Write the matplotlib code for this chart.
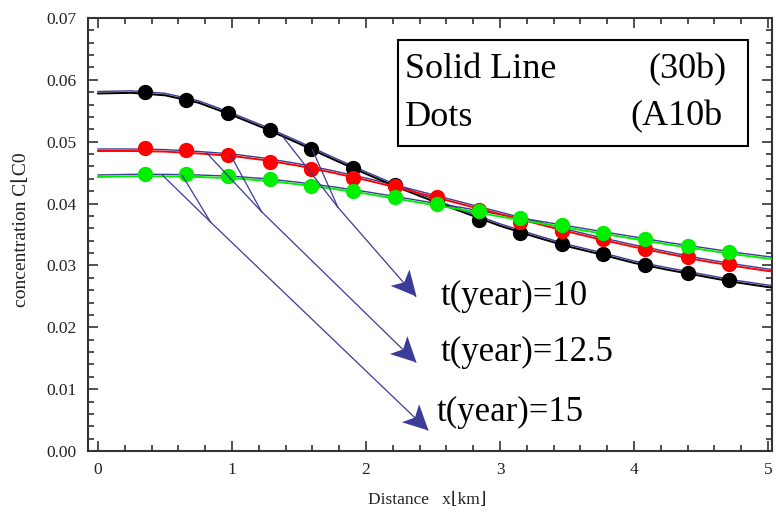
import numpy as np
import matplotlib
matplotlib.use("Agg")
import matplotlib.pyplot as plt
import matplotlib.transforms as mtransforms
from matplotlib.patches import Rectangle
from matplotlib.path import Path
from matplotlib.ticker import MultipleLocator, FormatStrFormatter

plt.rcParams['font.family'] = ['Liberation Serif', 'DejaVu Serif', 'DejaVu Sans']

# Model curves (solid lines), distance in km
line_x = [0.0, 0.25, 0.5, 0.75, 1.0, 1.25, 1.5, 1.75, 2.0, 2.25, 2.5,
          2.75, 3.0, 3.25, 3.5, 3.75, 4.0, 4.25, 4.5, 4.75, 5.0, 5.05]
line_t10 = [0.0578, 0.0579, 0.0575, 0.0563, 0.0543, 0.0521, 0.0497, 0.0472,
            0.0448, 0.0425, 0.0404, 0.0384, 0.0364, 0.0347, 0.0331, 0.0318,
            0.0304, 0.0293, 0.0283, 0.0273, 0.0265, 0.0264]
line_t125 = [0.0485, 0.0485, 0.0484, 0.0481, 0.0477, 0.0470, 0.0461, 0.0450,
             0.0438, 0.0425, 0.0411, 0.0397, 0.0383, 0.0369, 0.0355, 0.0342,
             0.0330, 0.0319, 0.0308, 0.0299, 0.0291, 0.0290]
line_t15 = [0.0443, 0.0444, 0.0444, 0.0443, 0.0441, 0.0437, 0.0431, 0.0424,
            0.0416, 0.0407, 0.0398, 0.0389, 0.0379, 0.0370, 0.0361, 0.0352,
            0.0343, 0.0334, 0.0326, 0.0318, 0.0311, 0.0310]

# Comparison values (dots)
dot_x = [0.35, 0.66, 0.97, 1.28, 1.59, 1.90, 2.22, 2.53,
         2.84, 3.15, 3.46, 3.77, 4.08, 4.40, 4.71]
dot_t10 = [0.0580, 0.0568, 0.0546, 0.0519, 0.0488, 0.0457, 0.0430, 0.0404,
           0.0374, 0.0353, 0.0334, 0.0318, 0.0301, 0.0287, 0.0276]
dot_t125 = [0.0490, 0.0486, 0.0478, 0.0468, 0.0456, 0.0442, 0.0428, 0.0410,
            0.0390, 0.0371, 0.0355, 0.0342, 0.0327, 0.0313, 0.0303]
dot_t15 = [0.0448, 0.0447, 0.0444, 0.0439, 0.0429, 0.0420, 0.0411, 0.0399,
           0.0388, 0.0376, 0.0365, 0.0353, 0.0342, 0.0331, 0.0321]

labels = ["t(year)=10", "t(year)=12.5", "t(year)=15"]
# pointer lines: two starts on a curve, a joint, then the arrow tip
arrow_starts = [[(1.38, 0.0508), (1.60, 0.0487)],
                [(0.81, 0.0482), (0.99, 0.0478)],
                [(0.48, 0.0446), (0.63, 0.0445)]]
arrow_joints = [(1.79, 0.0394), (1.22, 0.0387), (0.84, 0.0370)]
arrow_tips = [(2.37, 0.0250), (2.37, 0.0144), (2.46, 0.0034)]
label_pos = [(2.56, 0.0250), (2.56, 0.0160), (2.53, 0.0063)]

BLUE = '#3b3b98'
INK = '#222222'
HEAD_PT = 18  # arrowhead length in points


def head_marker(angle):
    # notched arrowhead with its tip at the origin, pointing along angle
    verts = np.array([[0, 0], [-1, 0.5], [-0.75, 0], [-1, -0.5], [0, 0]])
    c, s = np.cos(angle), np.sin(angle)
    rot = verts @ np.array([[c, s], [-s, c]])
    extent = np.abs(rot).max()
    codes = [Path.MOVETO, Path.LINETO, Path.LINETO, Path.LINETO, Path.CLOSEPOLY]
    return Path(rot, codes), 2 * HEAD_PT * extent


fig = plt.figure(figsize=(7.76, 5.15), dpi=100)
ax = fig.add_axes([88 / 776, 1 - 451 / 515, (772 - 88) / 776, (451 - 18) / 515])
ax.set_xlim(-0.075, 5.03)
ax.set_ylim(0, 0.07)

# thin blue twin of each curve, drawn a touch above it
shift = mtransforms.offset_copy(ax.transData, fig=fig, x=0, y=2, units='dots')
for ys in (line_t10, line_t125, line_t15):
    ax.plot(line_x, ys, color=BLUE, lw=1.0, transform=shift, zorder=2)

ax.plot(line_x, line_t10, color='black', lw=1.4, zorder=3)
ax.plot(line_x, line_t125, color='#ff0000', lw=1.4, zorder=3)
ax.plot(line_x, line_t15, color='#00ee00', lw=1.4, zorder=3)

ax.plot(dot_x, dot_t10, 'o', color='black', ms=10, zorder=4)
ax.plot(dot_x, dot_t125, 'o', color='#ff0000', ms=10, zorder=4)
ax.plot(dot_x, dot_t15, 'o', color='#00ee00', ms=10, zorder=4)

for starts, joint, tip, lab, lp in zip(arrow_starts, arrow_joints, arrow_tips, labels, label_pos):
    for s in starts:
        ax.plot([s[0], joint[0]], [s[1], joint[1]], color=BLUE, lw=0.9, zorder=5)
    ax.plot([joint[0], tip[0]], [joint[1], tip[1]], color=BLUE, lw=0.9, zorder=5)
    p0 = ax.transData.transform(joint)
    p1 = ax.transData.transform(tip)
    mk, ms = head_marker(np.arctan2(p1[1] - p0[1], p1[0] - p0[0]))
    ax.plot([tip[0]], [tip[1]], marker=mk, ms=ms, color=BLUE, mew=0, zorder=6)
    ax.text(lp[0], lp[1], lab, fontsize=25, color='black', ha='left', va='center', zorder=6)

ax.xaxis.set_major_locator(MultipleLocator(1))
ax.xaxis.set_minor_locator(MultipleLocator(0.2))
ax.yaxis.set_major_locator(MultipleLocator(0.01))
ax.yaxis.set_minor_locator(MultipleLocator(0.002))
ax.yaxis.set_major_formatter(FormatStrFormatter('%.2f'))
ax.tick_params(which='both', direction='in', top=True, right=True, colors='#333333',
               labelcolor=INK, labelsize=12.5, width=1.2)
ax.tick_params(which='major', length=7, pad=8)
ax.tick_params(which='minor', length=4)
for sp in ax.spines.values():
    sp.set_color('#333333')
    sp.set_linewidth(1.5)

# legend box
fig.patches.append(Rectangle((398 / 776, 1 - 146 / 515), 350 / 776, 106 / 515,
                             transform=fig.transFigure, fill=False, edgecolor='black',
                             lw=1.5, zorder=10))
fig.text(405 / 776, 1 - 70 / 515, 'Solid Line', fontsize=26, ha='left', va='center')
fig.text(727 / 776, 1 - 70 / 515, '(30b)', fontsize=26, ha='right', va='center')
fig.text(405 / 776, 1 - 117 / 515, 'Dots', fontsize=26, ha='left', va='center')
fig.text(722 / 776, 1 - 117 / 515, '(A10b', fontsize=26, ha='right', va='center')

fig.text(22 / 776, 1 - 230 / 515, 'concentration C\u230aC0', fontsize=14,
         rotation=90, ha='center', va='center', color=INK)
fig.text(368 / 776, 1 - 500 / 515, 'Distance   x\u230akm\u230b', fontsize=12.5,
         ha='left', va='center', color=INK)

fig.savefig('out.png', dpi=100)
